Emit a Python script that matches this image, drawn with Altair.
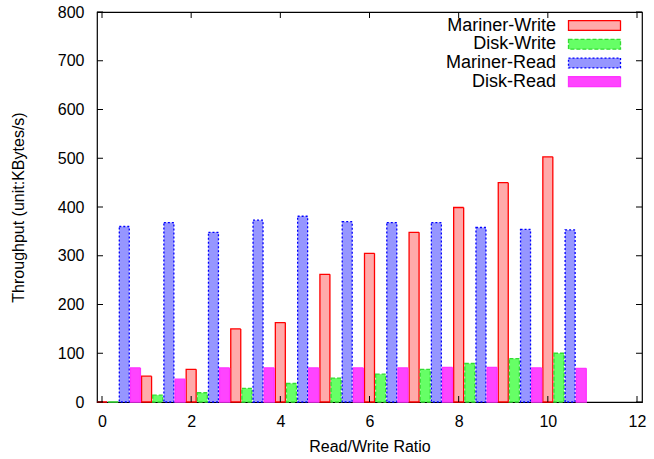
import altair as alt
import pandas as pd

# ---- data ----
ratios = list(range(11))
mariner_write = [0, 53, 67, 150, 163, 262, 305, 348, 399, 450, 503]
disk_write = [0, 14, 19, 28, 38, 49, 57, 67, 79, 89, 100]
mariner_read = [360, 368, 348, 373, 381, 370, 368, 368, 358, 354, 353]
disk_read = [70, 47, 70, 70, 70, 70, 70, 71, 71, 70, 69]

series_names = ["Mariner-Write", "Disk-Write", "Mariner-Read", "Disk-Read"]
series_offsets = [0.0, 0.25, 0.5, 0.75]

x_ticks = [0, 2, 4, 6, 8, 10, 12]
y_ticks = [0, 100, 200, 300, 400, 500, 600, 700, 800]

rows = []
for name, off, vals in zip(series_names, series_offsets,
                           [mariner_write, disk_write, mariner_read, disk_read]):
    for r, v in zip(ratios, vals):
        rows.append({"series": name, "pos": r + off, "value": v})
df = pd.DataFrame(rows)
leg_df = pd.DataFrame({"series": series_names})
xt = pd.DataFrame({"v": x_ticks})
yt = pd.DataFrame({"v": y_ticks})

W, H = 545, 390
FONT = "Liberation Sans"

fills = ["#ffaaaa", "#66ff66", "#9696ff", "#ff44ff"]
strokes = ["#ff0000", "#33dd33", "#0000ff", "#ff33ff"]
dashes = [[1, 0], [4, 2], [2, 2], [1, 0]]

xscale = alt.Scale(domain=[0, 12], nice=False, zero=False)
yscale = alt.Scale(domain=[0, 800], nice=False)
fill_scale = alt.Scale(domain=series_names, range=fills)
stroke_scale = alt.Scale(domain=series_names, range=strokes)
dash_scale = alt.Scale(domain=series_names, range=dashes)

bars = alt.Chart(df).mark_bar(width=10, strokeWidth=1.3, orient="vertical").encode(
    x=alt.X("pos:Q", scale=xscale,
            axis=alt.Axis(values=x_ticks, title="Read/Write Ratio", ticks=False,
                          tickSize=0, domain=False, grid=False, labelPadding=11,
                          labelFlush=False, labelAlign="center", labelBound=False,
                          titlePadding=9, format="d")),
    y=alt.Y("value:Q", scale=yscale, stack=None,
            axis=alt.Axis(values=y_ticks, title="Throughput (unit:KBytes/s)",
                          ticks=False, tickSize=0, domain=False, grid=False,
                          labelPadding=13, titlePadding=31, format="d")),
    fill=alt.Fill("series:N", scale=fill_scale, legend=None),
    stroke=alt.Stroke("series:N", scale=stroke_scale, legend=None),
    strokeDash=alt.StrokeDash("series:N", scale=dash_scale, legend=None),
)

TL = 6
left_ticks = alt.Chart(yt).mark_rule(color="black", strokeWidth=1).encode(
    y=alt.Y("v:Q", scale=yscale), x=alt.value(0), x2=alt.value(TL))
right_ticks = alt.Chart(yt).mark_rule(color="black", strokeWidth=1).encode(
    y=alt.Y("v:Q", scale=yscale), x=alt.value(W - TL), x2=alt.value(W))
bottom_ticks = alt.Chart(xt).mark_rule(color="black", strokeWidth=1).encode(
    x=alt.X("v:Q", scale=xscale), y=alt.value(H), y2=alt.value(H - TL))
top_ticks = alt.Chart(xt).mark_rule(color="black", strokeWidth=1).encode(
    x=alt.X("v:Q", scale=xscale), y=alt.value(0), y2=alt.value(TL))

base = alt.layer(bars, left_ticks, right_ticks, bottom_ticks, top_ticks)

# legend (gnuplot style: text on the left, sample on the right)
leg_y = alt.Y("series:N", axis=None,
              scale=alt.Scale(type="point", domain=series_names, range=[13.5, 69.7], padding=0))
leg_sym = alt.Chart(leg_df).mark_point(
    shape="M-1,-0.19L1,-0.19L1,0.19L-1,0.19Z", size=2704, filled=True,
    strokeWidth=1.3, opacity=1,
).encode(
    x=alt.value(497.5), y=leg_y,
    fill=alt.Fill("series:N", scale=fill_scale, legend=None),
    stroke=alt.Stroke("series:N", scale=stroke_scale, legend=None),
    strokeDash=alt.StrokeDash("series:N", scale=dash_scale, legend=None),
)
leg_txt = alt.Chart(leg_df).mark_text(
    align="right", baseline="middle", font=FONT, fontSize=18, color="black",
).encode(x=alt.value(459), y=leg_y, text="series:N")
legend = alt.layer(leg_sym, leg_txt)

chart = alt.layer(base, legend).resolve_scale(y="independent").properties(
    width=W, height=H,
    autosize=alt.AutoSizeParams(type="none"),
    padding={"left": 97, "top": 12, "right": 12, "bottom": 57},
    background="white",
).configure_view(stroke="black", strokeWidth=1.2).configure_axis(
    labelFont=FONT, labelFontSize=16, labelColor="black",
    titleFont=FONT, titleFontSize=16, titleColor="black", titleFontWeight="normal",
)

chart.save("out.html", embed_options={"renderer": "svg", "actions": False})
